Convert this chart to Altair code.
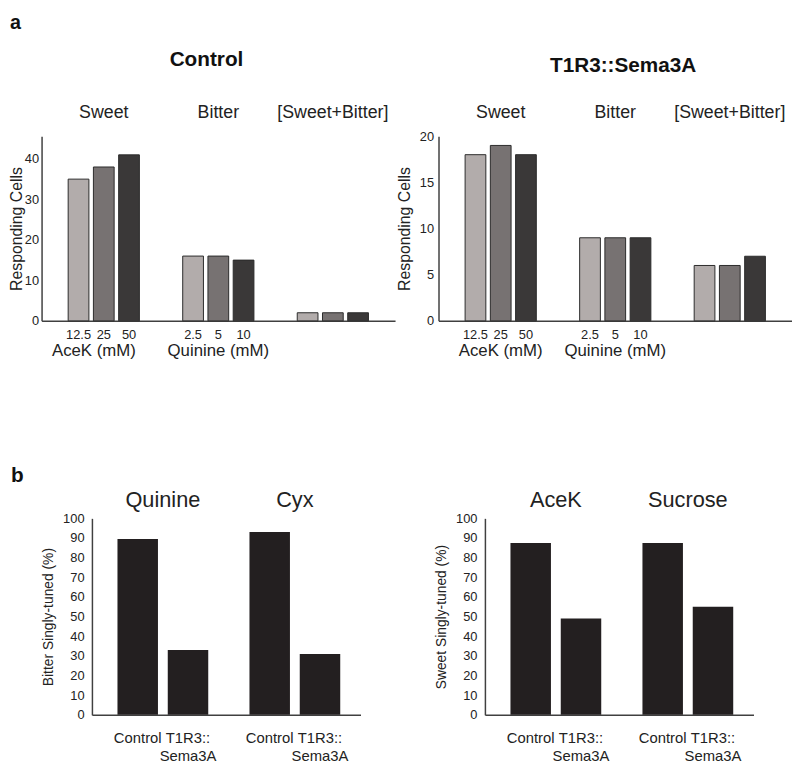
import altair as alt
import pandas as pd

# ---------------- data ----------------
top_groups = ["Sweet", "Bitter", "[Sweet+Bitter]"]
top_levels = [0, 1, 2]
top_tick_labels = [["12.5", "25", "50"], ["2.5", "5", "10"], ["", "", ""]]
top_axis_groups = ["Sweet", "Bitter"]
top_axis_names = ["AceK (mM)", "Quinine (mM)"]
control_cells = [[35, 38, 41], [16, 16, 15], [2, 2, 2]]
sema_cells = [[18, 19, 18], [9, 9, 9], [6, 6, 7]]
level_colors = ["#b2acab", "#777272", "#3a3838"]

bottom_conds = ["Control", "T1R3::Sema3A"]
bottom_cond_labels = [["Control"], ["T1R3::", "Sema3A"]]
bitter_tastants = ["Quinine", "Cyx"]
bitter_pct = [[89.5, 33], [93, 31]]
sweet_tastants = ["AceK", "Sucrose"]
sweet_pct = [[87.5, 49], [87.5, 55]]

FONT = "Liberation Sans"
TXT = "#222222"
AX = "#404040"

# spacing of the bars inside a group, in units of the group spacing (style)
TOP_BAR_STEP = 0.2204
BOTTOM_BAR_STEP = 0.381


def top_panel(vals, ymax, yvals, title, title_x, title_y, acek_dx, letter, label_pad, title_pad):
    rows = []
    for g, grp in enumerate(top_groups):
        for j in top_levels:
            rows.append({"group": grp, "gi": g, "level": j, "value": vals[g][j],
                         "tick": top_tick_labels[g][j]})
    df = pd.DataFrame(rows)
    df["pos"] = df["gi"] + (df["level"] - 1) * TOP_BAR_STEP
    xs = alt.Scale(domain=[-0.5, len(top_groups) - 0.5], nice=False, zero=False)
    xax = alt.Axis(labels=False, ticks=False, grid=False, title=None, domainColor=AX, domainWidth=1.5)
    bars = alt.Chart(df).mark_bar(size=21, orient="vertical", stroke="#2b2b2b", strokeWidth=1).encode(
        x=alt.X("pos:Q", scale=xs, axis=xax),
        y=alt.Y("value:Q", scale=alt.Scale(domain=[0, ymax], nice=False),
                axis=alt.Axis(values=yvals, ticks=False, tickSize=0, grid=False,
                              labelPadding=label_pad, labelFontSize=13, labelColor=TXT, labelFont=FONT,
                              domainColor=AX, domainWidth=1.5,
                              title="Responding Cells", titleFontSize=16, titleFontWeight="normal",
                              titleFont=FONT, titleColor=TXT, titlePadding=title_pad)),
        color=alt.Color("level:O", scale=alt.Scale(domain=top_levels, range=level_colors), legend=None),
    )
    ticks = alt.Chart(df[df["tick"] != ""]).mark_text(font=FONT, fontSize=13, color=TXT).encode(
        x=alt.X("pos:Q", scale=xs, axis=xax), y=alt.value(201), text="tick:N")
    names_df = pd.DataFrame({"gi": [top_groups.index(g) for g in top_axis_groups], "name": top_axis_names})
    name_a = alt.Chart(names_df.iloc[[0]]).mark_text(font=FONT, fontSize=17, color=TXT, dx=acek_dx).encode(
        x=alt.X("gi:Q", scale=xs, axis=xax), y=alt.value(218), text="name:N")
    name_b = alt.Chart(names_df.iloc[[1]]).mark_text(font=FONT, fontSize=17, color=TXT).encode(
        x=alt.X("gi:Q", scale=xs, axis=xax), y=alt.value(218), text="name:N")
    head_df = pd.DataFrame({"gi": list(range(len(top_groups))), "group": top_groups})
    heads = alt.Chart(head_df).mark_text(font=FONT, fontSize=18, color=TXT).encode(
        x=alt.X("gi:Q", scale=xs, axis=xax), y=alt.value(-23), text="group:N")
    ttl = alt.Chart(pd.DataFrame({"t": [title]})).mark_text(
        font=FONT, fontSize=21, fontWeight="bold", color="#111111").encode(
        x=alt.value(title_x), y=alt.value(title_y), text="t:N")
    layers = [bars, ticks, name_a, name_b, heads, ttl]
    if letter:
        lt = alt.Chart(pd.DataFrame({"t": [letter]})).mark_text(
            font=FONT, fontSize=20, fontWeight="bold", color="#111111", align="left", baseline="top").encode(
            x=alt.value(-32), y=alt.value(-125), text="t:N")
        layers.append(lt)
    return alt.layer(*layers).properties(width=358, height=187)


def bottom_panel(tastants, pct, ytitle, letter):
    rows = []
    for t, name in enumerate(tastants):
        for c, cond in enumerate(bottom_conds):
            rows.append({"tastant": name, "ti": t, "ci": c, "cond": cond, "value": pct[t][c],
                         "label": bottom_cond_labels[c]})
    df = pd.DataFrame(rows)
    df["pos"] = df["ti"] + (df["ci"] - 0.5) * BOTTOM_BAR_STEP
    xs = alt.Scale(domain=[-0.5, 1.46], nice=False, zero=False)
    xax = alt.Axis(labels=False, ticks=False, grid=False, title=None, domainColor=AX, domainWidth=1.5)
    bars = alt.Chart(df).mark_bar(size=41, orient="vertical", color="#231f20").encode(
        x=alt.X("pos:Q", scale=xs, axis=xax),
        y=alt.Y("value:Q", scale=alt.Scale(domain=[0, 100], nice=False),
                axis=alt.Axis(values=list(range(0, 101, 10)), ticks=False, tickSize=0, grid=False,
                              labelPadding=8, labelFontSize=13, labelColor=TXT, labelFont=FONT,
                              domainColor=AX, domainWidth=1.5,
                              title=ytitle, titleFontSize=14, titleFontWeight="normal",
                              titleFont=FONT, titleColor=TXT, titlePadding=7)),
    )
    labels = alt.Chart(df).mark_text(font=FONT, fontSize=15, lineHeight=18, color=TXT).encode(
        x=alt.X("pos:Q", scale=xs, axis=xax), y=alt.value(223), text="label:N")
    head_df = pd.DataFrame({"ti": list(range(len(tastants))), "tastant": tastants})
    heads = alt.Chart(head_df).mark_text(font=FONT, fontSize=22, color=TXT).encode(
        x=alt.X("ti:Q", scale=xs, axis=xax), y=alt.value(-18), text="tastant:N")
    layers = [bars, labels, heads]
    if letter:
        lt = alt.Chart(pd.DataFrame({"t": [letter]})).mark_text(
            font=FONT, fontSize=21, fontWeight="bold", color="#111111", align="left",
            baseline="alphabetic").encode(x=alt.value(-82), y=alt.value(-37), text="t:N")
        layers.append(lt)
    return alt.layer(*layers).properties(width=272, height=199)


def spacer(w):
    return alt.Chart(pd.DataFrame({"s": [0]})).mark_point(opacity=0).encode(
        x=alt.value(0), y=alt.value(0)).properties(width=w, height=1)


A = top_panel(control_cells, 45.6, [0, 10, 20, 30, 40], "Control", 167, -77, -10, "a", 3, 0)
B = top_panel(sema_cells, 20, [0, 5, 10, 15, 20], "T1R3::Sema3A", 187, -71, 0, None, 5, 7)
C = bottom_panel(bitter_tastants, bitter_pct, "Bitter Singly-tuned (%)", "b")
D = bottom_panel(sweet_tastants, sweet_pct, "Sweet Singly-tuned (%)", None)

row1 = alt.hconcat(A, B, spacing=44, bounds="flush")
row2 = alt.hconcat(spacer(51), C, spacer(126), D, spacing=0, bounds="flush")
chart = alt.vconcat(row1, row2, spacing=387, bounds="flush").properties(
    padding=0, background="white"
).configure_view(stroke=None).configure_text(font=FONT)

chart.save("out.html", embed_options={"renderer": "svg", "actions": False})
